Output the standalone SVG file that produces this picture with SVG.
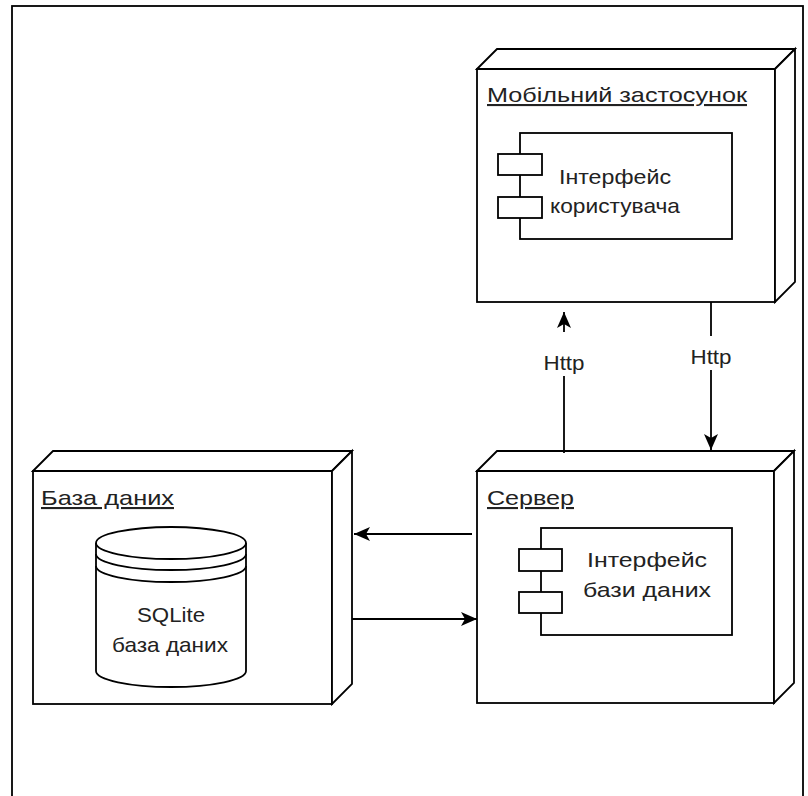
<svg xmlns="http://www.w3.org/2000/svg" width="808" height="796" viewBox="0 0 808 796">
  <style>
    .ln { fill: none; stroke: #000; stroke-width: 1.8; stroke-linejoin: miter; }
    .face { fill: #fff; stroke: #000; stroke-width: 1.8; stroke-linejoin: miter; }
    .txt { font-family: "Liberation Sans", Arial, sans-serif; font-size: 21px; fill: #222; }
    .mid { text-anchor: middle; }
    .title { text-decoration: underline; }
    .lbl { font-family: "Liberation Sans", Arial, sans-serif; font-size: 21px; fill: #222; text-anchor: middle; }
  </style>
  <defs>
    <marker id="arrow" viewBox="0 0 16 14" refX="16" refY="7" markerWidth="16" markerHeight="14" markerUnits="userSpaceOnUse" orient="auto">
      <path d="M0,0 L16,7 L0,14 L4,7 Z" fill="#000"/>
    </marker>
  </defs>

  <rect width="808" height="796" fill="#fff"/>

  <!-- outer frame, open at the bottom edge -->
  <rect id="frame" x="12" y="6" width="791" height="810" class="ln"/>

  <!-- mobile application node -->
  <g id="node-mobile">
    <rect x="477" y="69" width="298" height="233" class="face"/>
    <path d="M477,69 L497,49 L795,49 L775,69 Z" class="face"/>
    <path d="M775,69 L795,49 L795,282 L775,302 Z" class="face"/>
    <text x="487" y="102" class="txt title" textLength="260" lengthAdjust="spacingAndGlyphs">Мобільний застосунок</text>
    <g id="comp-ui">
      <rect x="520" y="133" width="212" height="106" class="face"/>
      <rect x="498" y="154" width="44" height="21" class="face"/>
      <rect x="498" y="197" width="44" height="21" class="face"/>
      <text x="615" y="184" class="txt mid" textLength="112" lengthAdjust="spacingAndGlyphs">Інтерфейс</text>
      <text x="615" y="213" class="txt mid" textLength="130" lengthAdjust="spacingAndGlyphs">користувача</text>
    </g>
  </g>

  <!-- server node -->
  <g id="node-server">
    <rect x="477" y="471" width="297" height="232" class="face"/>
    <path d="M477,471 L497,451 L794,451 L774,471 Z" class="face"/>
    <path d="M774,471 L794,451 L794,683 L774,703 Z" class="face"/>
    <text x="487" y="505" class="txt title" textLength="87" lengthAdjust="spacingAndGlyphs">Сервер</text>
    <g id="comp-db-api">
      <rect x="541" y="528" width="191" height="107" class="face"/>
      <rect x="519" y="549" width="43" height="22" class="face"/>
      <rect x="519" y="592" width="43" height="21" class="face"/>
      <text x="647" y="567" class="txt mid" textLength="120" lengthAdjust="spacingAndGlyphs">Інтерфейс</text>
      <text x="647" y="597" class="txt mid" textLength="128" lengthAdjust="spacingAndGlyphs">бази даних</text>
    </g>
  </g>

  <!-- database node -->
  <g id="node-database">
    <rect x="33" y="471" width="299" height="233" class="face"/>
    <path d="M33,471 L53,451 L352,451 L332,471 Z" class="face"/>
    <path d="M332,471 L352,451 L352,684 L332,704 Z" class="face"/>
    <text x="41" y="505" class="txt title" textLength="133" lengthAdjust="spacingAndGlyphs">База даних</text>
    <g id="store-sqlite">
      <path d="M96,543 A75,16 0 0 1 246,543 L246,671 A75,16 0 0 1 96,671 Z" class="face"/>
      <path d="M96,543 A75,16 0 0 0 246,543" class="ln"/>
      <path d="M96,554 A75,16 0 0 0 246,554" class="ln"/>
      <path d="M96,566 A75,16 0 0 0 246,566" class="ln"/>
      <text x="171" y="622" class="txt mid" textLength="68" lengthAdjust="spacingAndGlyphs">SQLite</text>
      <text x="170" y="652" class="txt mid" textLength="116" lengthAdjust="spacingAndGlyphs">база даних</text>
    </g>
  </g>

  <!-- connectors -->
  <g id="connectors">
    <path d="M564,453 L564,312" class="ln" marker-end="url(#arrow)"/>
    <rect x="540" y="332" width="48" height="44" fill="#fff"/>
    <text x="564" y="370" class="lbl" textLength="41" lengthAdjust="spacingAndGlyphs">Http</text>

    <path d="M711,302 L711,450" class="ln" marker-end="url(#arrow)"/>
    <rect x="687" y="336" width="48" height="34" fill="#fff"/>
    <text x="711" y="364" class="lbl" textLength="41" lengthAdjust="spacingAndGlyphs">Http</text>

    <path d="M472,534 L354,534" class="ln" marker-end="url(#arrow)"/>
    <path d="M352,619 L477,619" class="ln" marker-end="url(#arrow)"/>
  </g>
</svg>
